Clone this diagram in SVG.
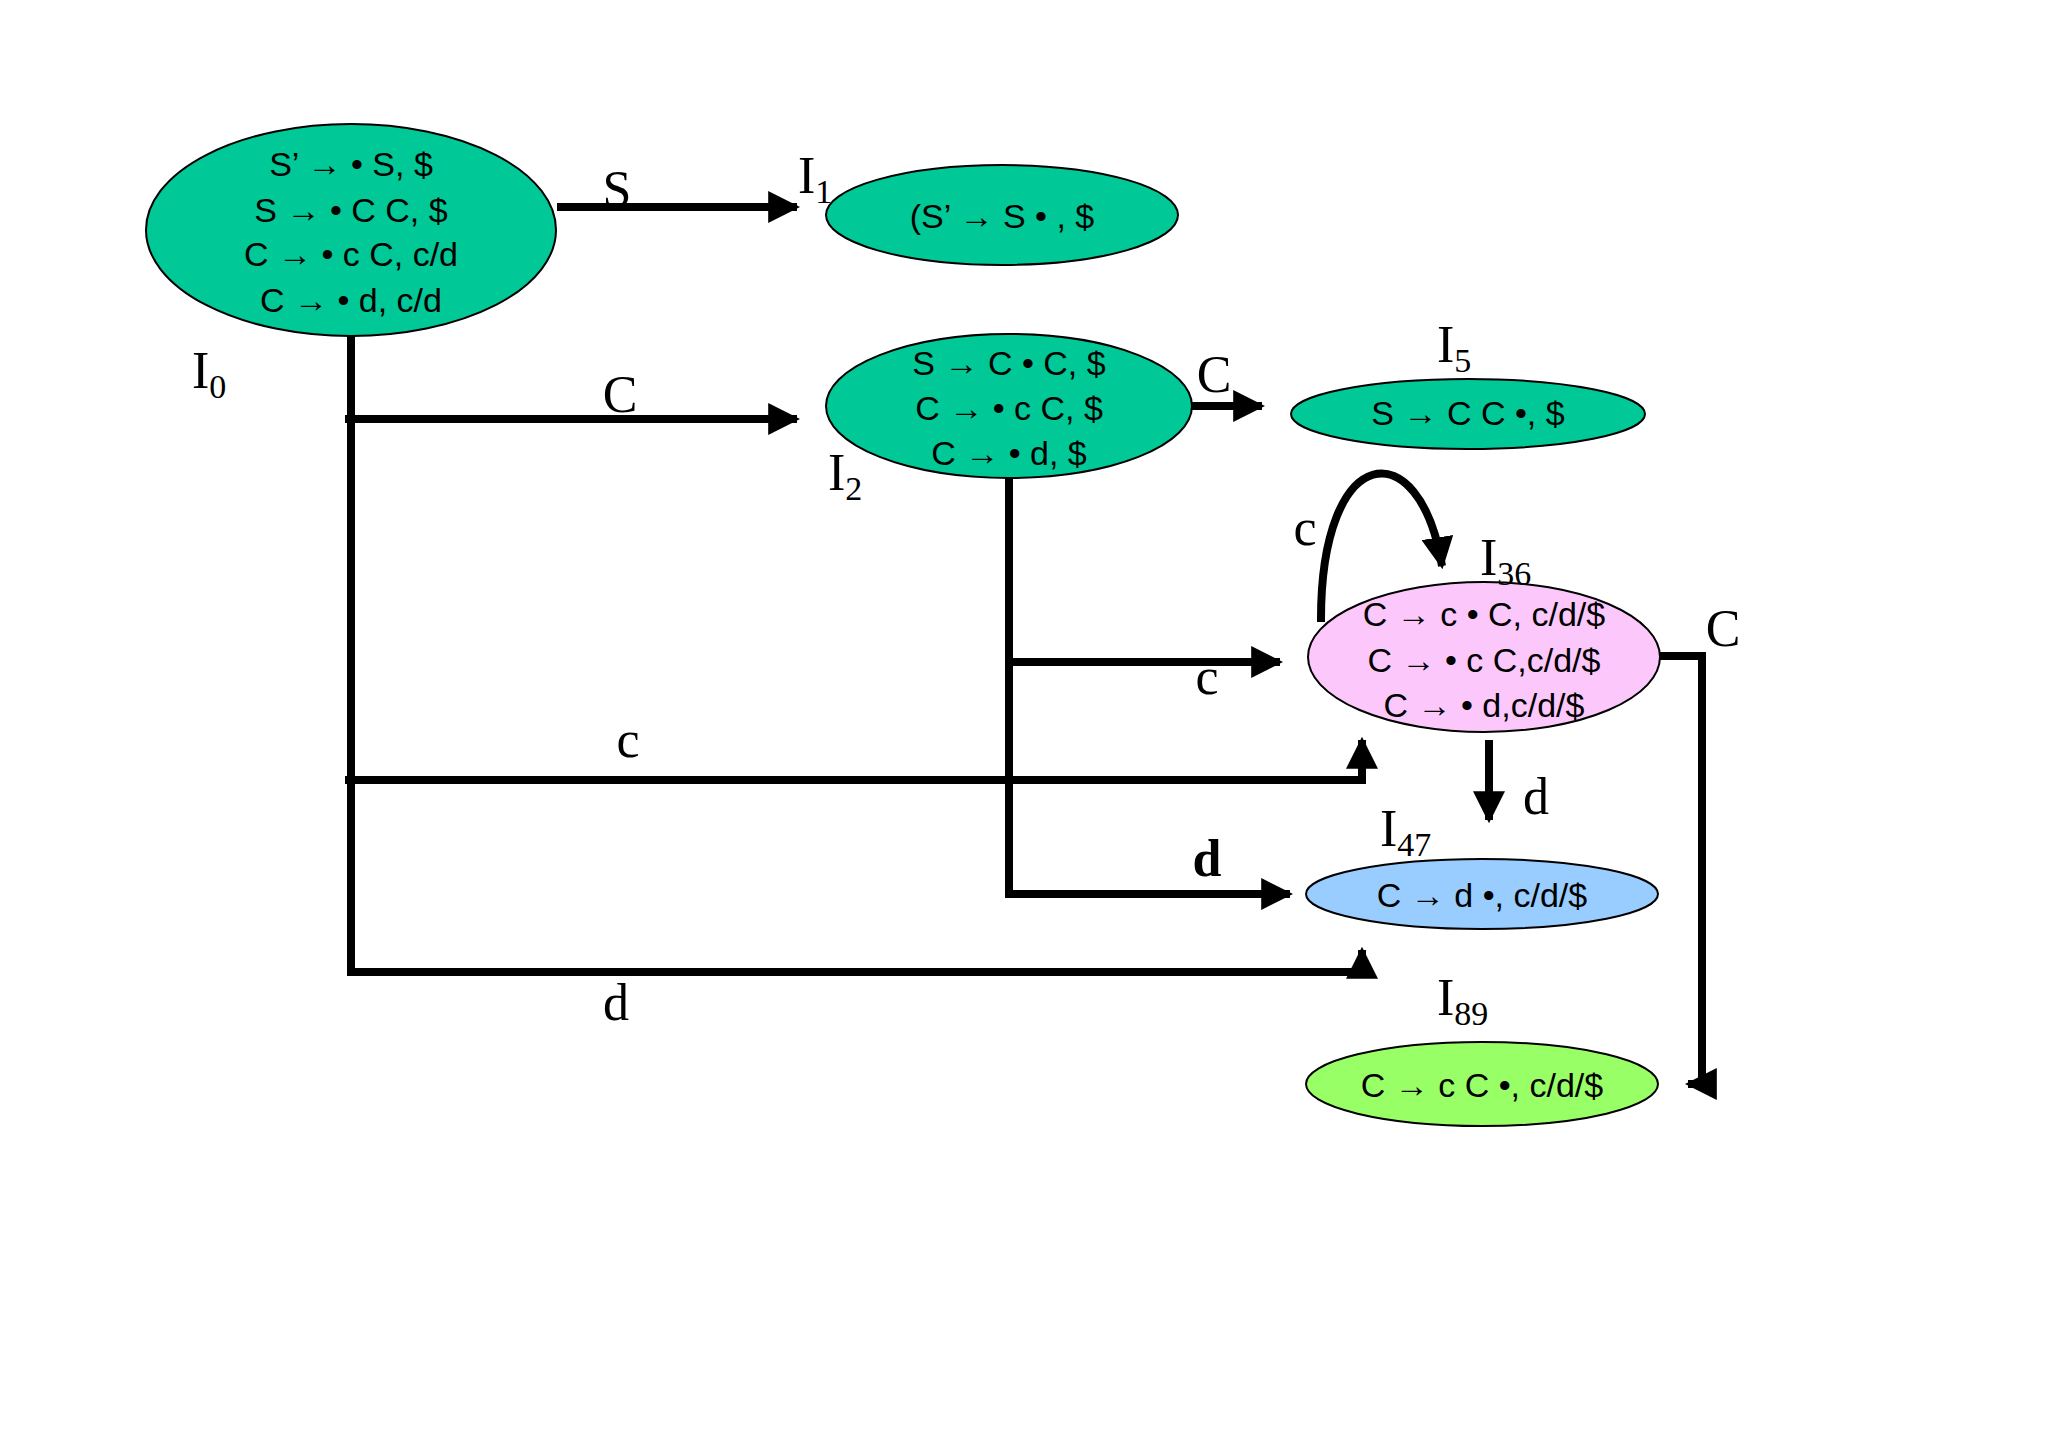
<svg xmlns="http://www.w3.org/2000/svg" width="2048" height="1447" viewBox="0 0 2048 1447">
<defs>
<marker id="ah" markerWidth="4" markerHeight="4" refX="3.6" refY="2" orient="auto" markerUnits="strokeWidth"><path d="M0,0 L4,2 L0,4 z" fill="#000"/></marker>
</defs>
<style>
.n{stroke:#000;stroke-width:2}
.t{font-family:"Liberation Sans",Arial,sans-serif;font-size:34px;text-anchor:middle;fill:#000}
.l{font-family:"Liberation Serif","Times New Roman",serif;font-size:52px;fill:#000}
.s{font-size:34px}
.e{fill:none;stroke:#000;stroke-width:8}
</style>
<rect width="2048" height="1447" fill="#fff"/>
<g id="connectors">
<path class="e" d="M557,207 H797" marker-end="url(#ah)"/>
<path class="e" d="M351,335 V972 H1362 V950" marker-end="url(#ah)"/>
<path class="e" d="M345,419 H797" marker-end="url(#ah)"/>
<path class="e" d="M345,780 H1362 V740" marker-end="url(#ah)"/>
<path class="e" d="M1009,478 V894 H1290" marker-end="url(#ah)"/>
<path class="e" d="M1009,662 H1280" marker-end="url(#ah)"/>
<path class="e" d="M1191,406 H1262" marker-end="url(#ah)"/>
<path class="e" d="M1489,740 V820" marker-end="url(#ah)"/>
<path class="e" d="M1659,656 H1702 V1084 H1688" marker-end="url(#ah)"/>
<path class="e" d="M1321,622 C1320,440 1420,430 1442,566" marker-end="url(#ah)"/>
<text class="l" x="617" y="207" text-anchor="middle">S</text>
<text class="l" x="620" y="412" text-anchor="middle">C</text>
<text class="l" x="1214" y="392" text-anchor="middle">C</text>
<text class="l" x="1305" y="545" text-anchor="middle">c</text>
<text class="l" x="1723" y="646" text-anchor="middle">C</text>
<text class="l" x="1207" y="694" text-anchor="middle">c</text>
<text class="l" x="628" y="757" text-anchor="middle">c</text>
<text class="l" x="1536" y="814" text-anchor="middle">d</text>
<text class="l" x="1207" y="876" text-anchor="middle" font-weight="bold" font-size="36">d</text>
<text class="l" x="616" y="1020" text-anchor="middle">d</text>
</g>
<g id="I0">
<ellipse class="n" cx="351" cy="230" rx="205" ry="106" fill="#00c896"/>
<text class="t" x="351" y="176">S’ → • S, $</text>
<text class="t" x="351" y="222">S → • C C, $</text>
<text class="t" x="351" y="266">C → • c C, c/d</text>
<text class="t" x="351" y="312">C → • d, c/d</text>
<text class="l" x="192" y="388">I<tspan class="s" dy="10">0</tspan></text>
</g>
<g id="I1">
<ellipse class="n" cx="1002" cy="215" rx="176" ry="50" fill="#00c896"/>
<text class="t" x="1002" y="228">(S’ → S • , $</text>
<text class="l" x="798" y="193">I<tspan class="s" dy="10">1</tspan></text>
</g>
<g id="I2">
<ellipse class="n" cx="1009" cy="406" rx="183" ry="72" fill="#00c896"/>
<text class="t" x="1009" y="375">S → C • C, $</text>
<text class="t" x="1009" y="420">C → • c C, $</text>
<text class="t" x="1009" y="465">C → • d, $</text>
<text class="l" x="828" y="490">I<tspan class="s" dy="10">2</tspan></text>
</g>
<g id="I5">
<ellipse class="n" cx="1468" cy="414" rx="177" ry="35" fill="#00c896"/>
<text class="t" x="1468" y="425" font-size="30">S → C C •, $</text>
<text class="l" x="1437" y="362">I<tspan class="s" dy="10">5</tspan></text>
</g>
<g id="I36">
<ellipse class="n" cx="1484" cy="657" rx="176" ry="75" fill="#fcc8fc"/>
<text class="t" x="1484" y="626">C → c • C, c/d/$</text>
<text class="t" x="1484" y="672">C → • c C,c/d/$</text>
<text class="t" x="1484" y="717">C → • d,c/d/$</text>
<text class="l" x="1480" y="575">I<tspan class="s" dy="10">36</tspan></text>
</g>
<g id="I47">
<ellipse class="n" cx="1482" cy="894" rx="176" ry="35" fill="#99ccff"/>
<text class="t" x="1482" y="907">C → d •, c/d/$</text>
<text class="l" x="1380" y="846">I<tspan class="s" dy="10">47</tspan></text>
</g>
<g id="I89">
<ellipse class="n" cx="1482" cy="1084" rx="176" ry="42" fill="#99ff66"/>
<text class="t" x="1482" y="1097">C → c C •, c/d/$</text>
<text class="l" x="1437" y="1015">I<tspan class="s" dy="10">89</tspan></text>
</g>
</svg>
